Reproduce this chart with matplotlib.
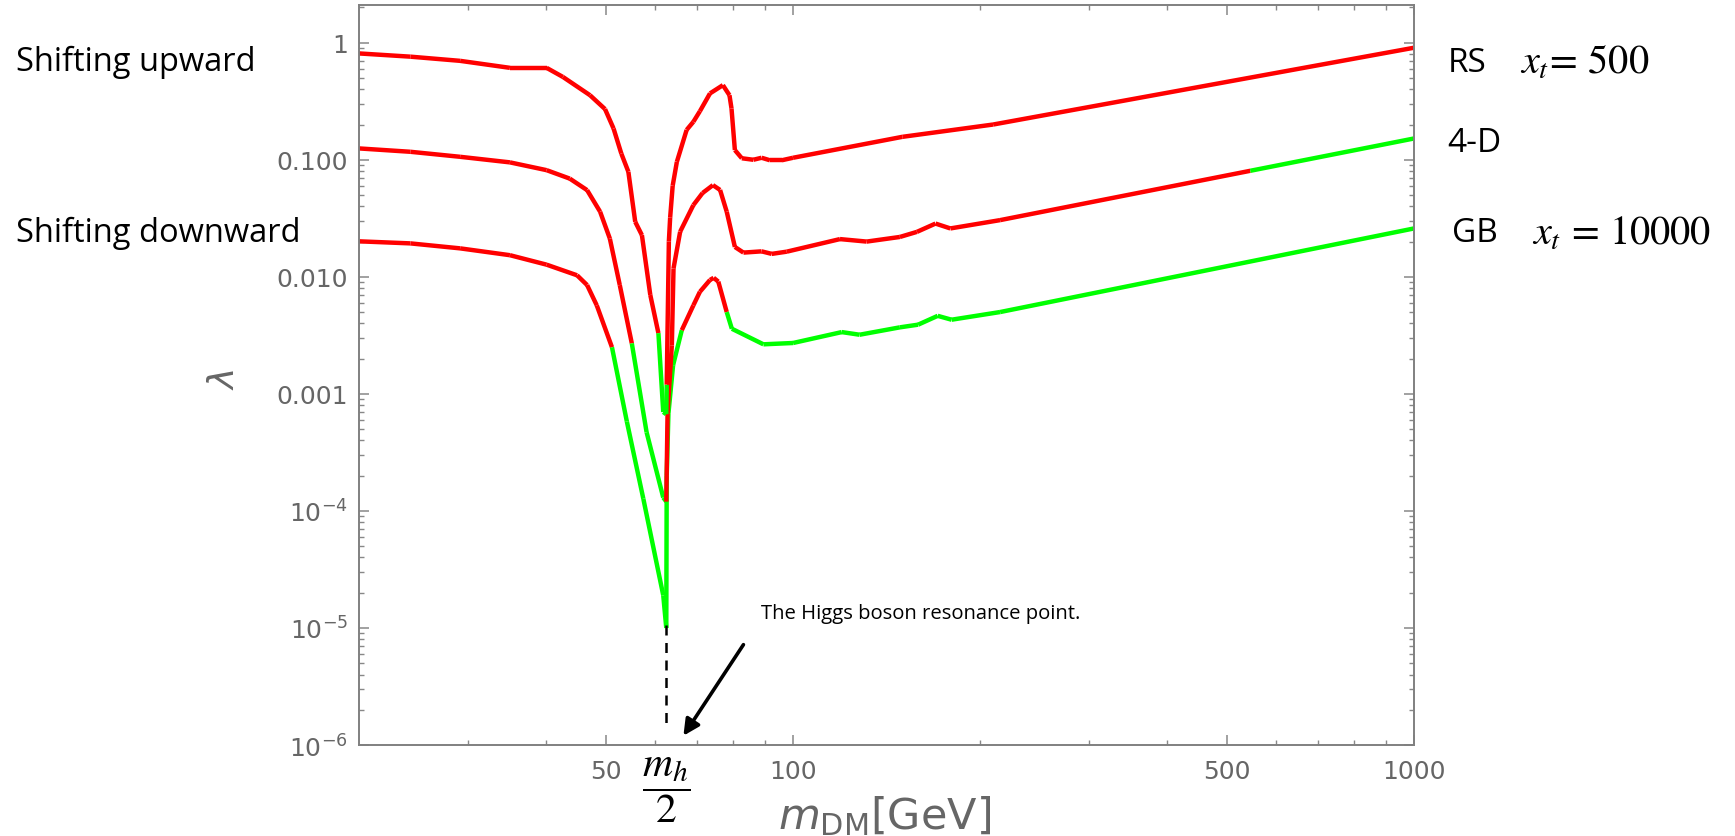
import numpy as np
import matplotlib.pyplot as plt

# ---- data ----
# ok flag: 1 = segment starting at this point is allowed (green), 0 = excluded (red)
rs_x = [20, 24.2, 29.1, 35.0, 40.1, 42.6, 47.1, 49.8, 51.4, 52.9, 54.3, 55.7, 57.1, 58.9, 60.7,
        61.8, 62.5, 62.6, 63.1, 63.4, 64.0, 65.0, 67.4, 69.1, 70.8, 73.5, 77.1, 79.0, 79.6, 80.6,
        82.7, 86.3, 89.0, 91.8, 95.9, 100, 150, 210, 1000]
rs_y = [0.81, 0.76, 0.70, 0.61, 0.61, 0.51, 0.356, 0.271, 0.185, 0.113, 0.079, 0.0295, 0.0227, 0.0070, 0.0033,
        7.0e-4, 6.7e-4, 1.2e-3, 0.02, 0.032, 0.06, 0.096, 0.18, 0.211, 0.26, 0.369, 0.434, 0.356, 0.274, 0.121,
        0.103, 0.100, 0.104, 0.099, 0.099, 0.104, 0.157, 0.20, 0.906]
rs_ok = [0] * 14 + [1, 1, 1] + [0] * 22

d4_x = [20, 24.2, 29.1, 35.0, 40.1, 43.7, 46.6, 48.9, 50.7, 52.6, 55.0, 58.1, 61.8, 62.5,
        62.8, 63.8, 64.2, 65.8, 69.1, 71.5, 74.3, 76.3, 78.2, 80.6, 83.2, 89.0, 92.4, 97.7,
        119, 131.4, 148.6, 158.3, 169.6, 179.2, 215.5, 545, 1000]
d4_y = [0.125, 0.117, 0.106, 0.095, 0.0815, 0.069, 0.055, 0.036, 0.0212, 0.0085, 0.0027, 4.7e-4, 1.3e-4, 1.2e-4,
        7e-4, 0.0026, 0.0118, 0.0243, 0.041, 0.052, 0.0607, 0.0552, 0.036, 0.018, 0.0161, 0.0165, 0.0157, 0.0164,
        0.021, 0.0200, 0.0219, 0.0242, 0.0285, 0.0259, 0.0305, 0.0805, 0.152]
d4_ok = [0] * 10 + [1, 1, 1] + [0] * 22 + [1, 1]

gb_x = [20, 24.2, 29.1, 35.0, 40.1, 44.9, 46.6, 48.3, 51.1, 54.0, 57.4, 61.8, 62.5,
        62.6, 63.0, 64.1, 66.2, 69.1, 70.8, 73.5, 74.5, 75.8, 78.2, 79.7, 89.6, 100,
        119.8, 128, 148.6, 159, 171, 180, 215.5, 1000]
gb_y = [0.0201, 0.0193, 0.0175, 0.0153, 0.0127, 0.0103, 0.0085, 0.0057, 0.0025, 5.8e-4, 1.27e-4, 1.9e-5, 1.0e-5,
        2e-4, 6.8e-4, 0.00176, 0.0035, 0.0057, 0.00745, 0.0094, 0.0098, 0.0091, 0.0050, 0.0036, 0.00265, 0.00272,
        0.00337, 0.0032, 0.0037, 0.0039, 0.00464, 0.0043, 0.0050, 0.0259]
gb_ok = [0] * 8 + [1] * 8 + [0] * 6 + [1] * 12

m_half = 62.5
x_ticks = [50, 100, 500, 1000]
y_ticks = [1, 0.1, 0.01, 0.001, 1e-4, 1e-5, 1e-6]
y_ticklabels = ['1', '0.100', '0.010', '0.001', '$10^{-4}$', '$10^{-5}$', '$10^{-6}$']

RED = '#ff0000'
GREEN = '#00ff00'
GRAY = '#666666'

W, H = 1735, 837
fig = plt.figure(figsize=(W / 100, H / 100), dpi=100)
ax = fig.add_axes([359 / W, 1 - 746 / H, (1414 - 359) / W, (746 - 6) / H])
ax.set_xscale('log')
ax.set_yscale('log')


def draw(xs, ys, ok):
    for i in range(len(xs) - 1):
        ax.plot(xs[i:i + 2], ys[i:i + 2], color=GREEN if ok[i] else RED,
                lw=3.2, solid_capstyle='butt', solid_joinstyle='round')


draw(gb_x, gb_y, gb_ok)
draw(d4_x, d4_y, d4_ok)
draw(rs_x, rs_y, rs_ok)

ax.plot([m_half, m_half], [1.05e-5, 1.5e-6], color='k', lw=1.8, dashes=(4, 3))
ax.annotate('', xy=(66.6, 1.2e-6), xytext=(83.2, 7.2e-6),
            arrowprops=dict(arrowstyle='-|>', color='k', lw=2.6, mutation_scale=24,
                            shrinkA=0, shrinkB=0))

ax.set_xticks(x_ticks)
ax.set_xticklabels([str(t) for t in x_ticks])
ax.set_xticks([30, 40, 60, 70, 80, 90, 200, 300, 400, 600, 700, 800, 900], minor=True)
ax.set_xticklabels([], minor=True)
ax.set_yticks(y_ticks)
ax.set_yticklabels(y_ticklabels)
ax.set_yticks([k * 10.0 ** e for e in range(-6, 0) for k in range(2, 10)] + [2], minor=True)
ax.set_yticklabels([], minor=True)
ax.set_xlim(20, 1000)
ax.set_ylim(1e-6, 2.1)

ax.tick_params(which='both', direction='in', top=True, right=True, color='#888888',
               labelcolor=GRAY, labelsize=18)
ax.tick_params(which='major', length=7, width=1.1)
ax.tick_params(which='minor', length=3.5, width=1.0)
ax.tick_params(axis='x', pad=10)
ax.tick_params(axis='y', pad=8)
for s in ax.spines.values():
    s.set_color('#808080')
    s.set_linewidth(1.4)

# m_h / 2 tick label
ax.text(m_half, -0.012, r'$\dfrac{m_h}{2}$', transform=ax.get_xaxis_transform(),
        ha='center', va='top', fontsize=30, color='k', math_fontfamily='stix')

fig.text(885 / W, 1 - 816 / H, r'$m_{\rm DM}$[GeV]', ha='center', va='center',
         fontsize=31, color=GRAY)
fig.text(224 / W, 1 - 379 / H, r'$\lambda$', ha='center', va='center', rotation=90,
         fontsize=26, color=GRAY)

txt = dict(family='Open Sans', color='k', va='center')
fig.text(16 / W, 1 - 62 / H, 'Shifting upward', fontsize=23.5, **txt)
fig.text(16 / W, 1 - 233 / H, 'Shifting downward', fontsize=23.5, **txt)
fig.text(761 / W, 1 - 614 / H, 'The Higgs boson resonance point.', fontsize=14.6, **txt)

fig.text(1448 / W, 1 - 63 / H, 'RS', fontsize=24, **txt)
fig.text(1520 / W, 1 - 63 / H, r'$x_t\!=\,500$', fontsize=29, color='k', va='center',
         math_fontfamily='stix')
fig.text(1447 / W, 1 - 143 / H, '4-D', fontsize=24, **txt)
fig.text(1452 / W, 1 - 234 / H, 'GB', fontsize=24, **txt)
fig.text(1532 / W, 1 - 234 / H, r'$x_t\,=\,10000$', fontsize=29, color='k', va='center',
         math_fontfamily='stix')

fig.savefig('out.png', dpi=100)
